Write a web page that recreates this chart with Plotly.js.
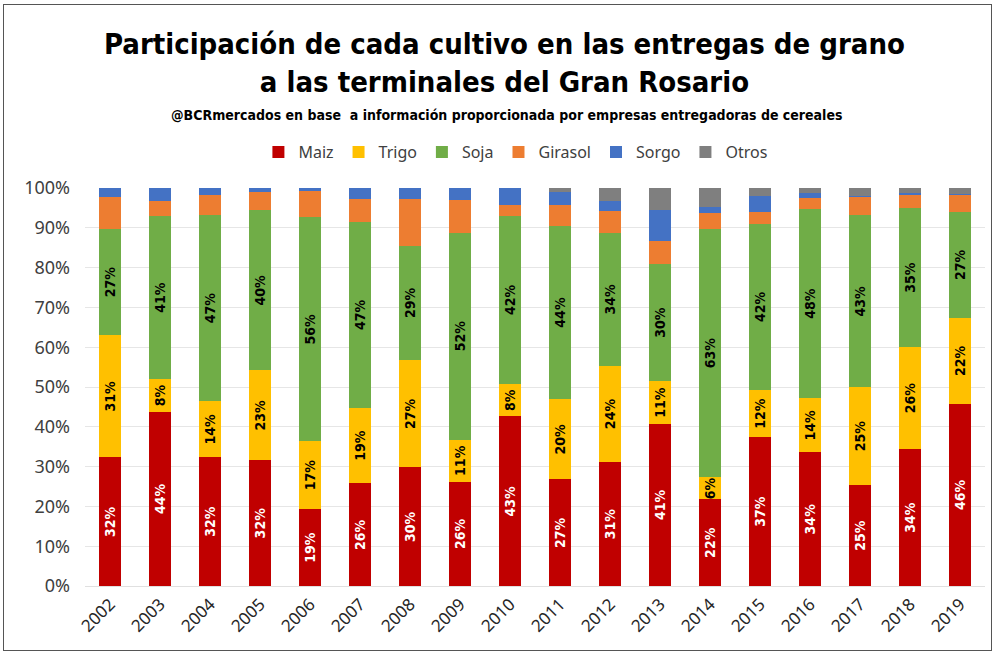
<!DOCTYPE html>
<html>
<head>
<meta charset="utf-8">
<script src="https://cdn.plot.ly/plotly-3.0.1.min.js"></script>
<style>
  html, body { margin:0; padding:0; background:#fff; }
  #frame { position:absolute; left:3px; top:4px; width:987px; height:645px; border:1.5px solid #555; }
  #chart { position:absolute; left:0; top:0; width:995px; height:655px; }
</style>
</head>
<body>
<div id="chart"></div>
<div id="frame"></div>
<script>
const years = ["2002","2003","2004","2005","2006","2007","2008","2009","2010","2011","2012","2013","2014","2015","2016","2017","2018","2019"];
const maiz    = [32.3, 43.8, 32.4, 31.6, 19.4, 25.8, 29.8, 26.2, 42.6, 26.8, 31.2, 40.8, 21.8, 37.4, 33.6, 25.4, 34.4, 45.8];
const trigo   = [30.7,  8.2, 14.0, 22.6, 17.0, 19.0, 27.0, 10.6,  8.2, 20.2, 24.1, 10.6,  5.5, 11.9, 13.6, 24.6, 25.7, 21.6];
const soja    = [26.8, 41.0, 46.9, 40.2, 56.2, 46.7, 28.7, 52.0, 42.2, 43.5, 33.5, 29.6, 62.5, 41.7, 47.6, 43.1, 34.8, 26.6];
const girasol = [ 7.9,  3.8,  4.9,  4.5,  6.7,  5.7, 11.7,  8.2,  2.8,  5.2,  5.5,  5.7,  3.8,  3.0,  2.7,  4.6,  3.3,  4.3];
const sorgo   = [ 2.3,  3.2,  1.8,  1.1,  0.7,  2.8,  2.8,  3.0,  4.2,  3.3,  2.4,  7.8,  1.6,  4.0,  1.3,  0.2,  0.6,  0.1];
const otros   = [ 0.0,  0.0,  0.0,  0.0,  0.0,  0.0,  0.0,  0.0,  0.0,  1.0,  3.3,  5.5,  4.8,  2.0,  1.2,  2.1,  1.2,  1.6];

const condFont = "DejaVu Sans Condensed, DejaVu Sans, sans-serif";
function series(name, vals, color, showText, textColor) {
  const t = {
    type: 'bar', name: name, x: years, y: vals,
    marker: { color: color },
    hoverinfo: 'name+y'
  };
  if (showText) {
    t.text = vals.map(v => Math.round(v) + '%');
    t.textposition = 'inside';
    t.insidetextanchor = 'middle';
    t.textangle = -90;
    t.constraintext = 'none';
    t.textfont = { family: condFont, size: 14, color: textColor, weight: 'bold' };
  } else {
    t.textposition = 'none';
  }
  return t;
}

const data = [
  series('Maiz', maiz, '#C00000', true, '#ffffff'),
  series('Trigo', trigo, '#FFC000', true, '#000000'),
  series('Soja', soja, '#70AD47', true, '#000000'),
  series('Girasol', girasol, '#ED7D31', false),
  series('Sorgo', sorgo, '#4472C4', false),
  series('Otros', otros, '#7F7F7F', false)
];

const layout = {
  width: 995, height: 655,
  paper_bgcolor: '#ffffff', plot_bgcolor: '#ffffff',
  margin: { l: 85, r: 10, t: 188, b: 69 },
  barmode: 'stack',
  bargap: 0.56,
  showlegend: true,
  legend: {
    orientation: 'h', xref: 'container', yref: 'container',
    x: 0.518, xanchor: 'center', y: 1 - 152/655, yanchor: 'middle',
    traceorder: 'normal',
    font: { family: "Noto Sans, sans-serif", size: 16, color: '#404040' },
    itemwidth: 30
  },
  title: {
    text: 'Participación de cada cultivo en las entregas de grano<br>a las terminales del Gran Rosario',
    xref: 'container', yref: 'container',
    x: 0.507, xanchor: 'center', y: 1 - 54/655, yanchor: 'middle',
    font: { family: condFont, size: 29, color: '#000000', weight: 'bold' }
  },
  annotations: [{
    text: '@BCRmercados en base  a información proporcionada por empresas entregadoras de cereales',
    xref: 'paper', yref: 'paper', x: 0.468, y: (586-115)/398, xanchor: 'center', yanchor: 'middle',
    showarrow: false,
    font: { family: condFont, size: 14, color: '#000000', weight: 'bold' }
  }],
  xaxis: {
    type: 'category',
    tickangle: -45,
    ticklabelstandoff: 4,
    tickfont: { family: "Noto Sans, sans-serif", size: 17, color: '#262626' },
    showgrid: false, showline: false, ticks: '',
    zeroline: false
  },
  yaxis: {
    range: [0, 100],
    dtick: 10,
    ticksuffix: '%',
    ticklabelstandoff: 14,
    tickfont: { family: "Noto Sans, sans-serif", size: 18, color: '#404040' },
    showgrid: true, gridcolor: '#e6e6e6', gridwidth: 1,
    zeroline: true, zerolinecolor: '#e0e0e0',
    showline: false, ticks: '', ticklen: 0
  }
};

Plotly.newPlot('chart', data, layout, { displayModeBar: false, staticPlot: true });
</script>
</body>
</html>
